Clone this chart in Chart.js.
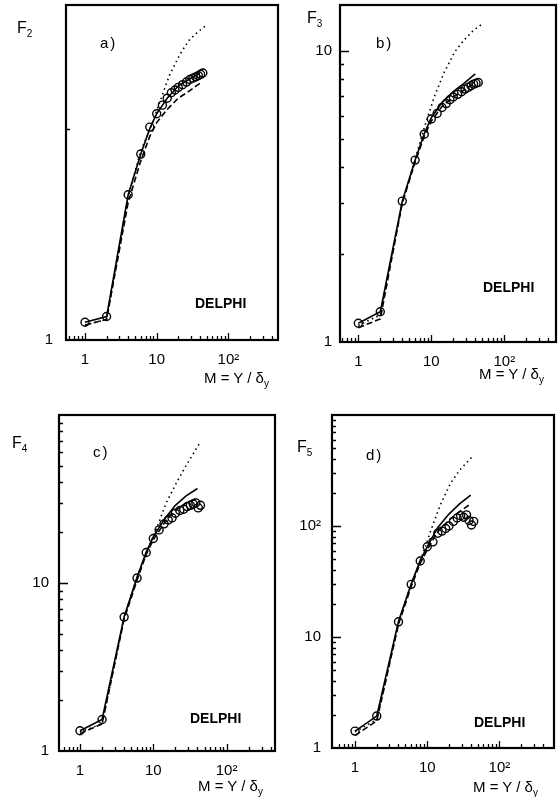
<!DOCTYPE html>
<html>
<head>
<meta charset="utf-8">
<script src="https://cdn.jsdelivr.net/npm/chart.js@4.4.1/dist/chart.umd.min.js"></script>
<style>
  body { margin: 0; background: #fff; width: 558px; height: 797px; position: relative; overflow: hidden;
         font-family: "Liberation Sans", Arial, sans-serif; color: #000; }
  canvas { position: absolute; }
  .t { position: absolute; font-size: 15px; line-height: 1; white-space: nowrap; }
  .t sub { font-size: 10px; vertical-align: -4px; line-height: 0; }
  .fq { font-size: 16px; }
  .lab { letter-spacing: 2px; font-size: 15px; }
  .dl { font-weight: bold; font-size: 14px; }
</style>
</head>
<body>
<script>
// --- DATA ---
// bin counts M = Y / delta_y
const M_DATA  = [1, 2, 4, 6, 8, 10, 12, 14, 16, 18, 20, 23, 26, 29, 32, 35, 38, 41, 44];
const M_MODEL = [1, 2, 4, 6, 8, 10, 14, 20, 28, 40];
const M_DOT_AB = [1, 2, 4, 6, 8, 11, 15, 21, 28, 38, 50];
const M_DOT_CD = [1, 2, 4, 6, 8, 11, 15, 21, 28, 42];

// a) F2
const f2Data   = [1.06, 1.08, 1.61, 1.84, 2.01, 2.10, 2.16, 2.21, 2.25, 2.27, 2.29, 2.31, 2.33, 2.35, 2.36, 2.37, 2.38, 2.39, 2.40];
const f2Solid  = [1.06, 1.08, 1.61, 1.84, 2.00, 2.10, 2.21, 2.30, 2.35, 2.40];
const f2Dashed = [1.05, 1.07, 1.57, 1.80, 1.95, 2.04, 2.13, 2.21, 2.26, 2.32];
const f2Dotted = [1.05, 1.07, 1.60, 1.86, 1.99, 2.18, 2.38, 2.55, 2.67, 2.75, 2.81];

// b) F3
const f3Data   = [1.16, 1.27, 3.05, 4.22, 5.18, 5.84, 6.10, 6.40, 6.60, 6.80, 6.95, 7.10, 7.25, 7.40, 7.50, 7.60, 7.70, 7.75, 7.80];
const f3Solid  = [1.16, 1.27, 3.05, 4.22, 5.20, 5.90, 6.65, 7.25, 7.75, 8.35];
const f3Dashed = [1.12, 1.20, 3.00, 4.15, 5.10, 5.75, 6.45, 6.95, 7.35, 7.80];
const f3Dotted = [1.14, 1.24, 3.00, 4.25, 5.45, 6.97, 8.45, 9.95, 10.9, 11.8, 12.4];

// c) F4
const f4Data   = [1.32, 1.54, 6.27, 10.7, 15.2, 18.4, 20.7, 22.5, 23.7, 24.4, 26.0, 27.0, 27.5, 28.5, 29.0, 29.5, 30.0, 28.0, 29.0];
const f4Solid  = [1.32, 1.54, 6.30, 10.8, 15.3, 18.8, 23.8, 29.0, 33.0, 36.5];
const f4Dashed = [1.27, 1.45, 6.10, 10.4, 14.8, 18.1, 22.6, 27.0, 30.0, 32.0];
const f4Dotted = [1.30, 1.45, 6.20, 10.8, 15.0, 21.0, 30.0, 40.0, 50.0, 67.0];

// d) F5
const f5Data   = [1.42, 1.94, 13.7, 29.8, 48.4, 65.0, 72.0, 86.0, 90.0, 95.0, 100, 110, 118, 124, 120, 126, 112, 102, 110];
const f5Solid  = [1.42, 1.94, 13.8, 30.0, 49.0, 65.0, 97.0, 128, 158, 190];
const f5Dashed = [1.30, 1.75, 13.0, 28.5, 46.0, 61.0, 89.0, 113, 135, 158];
const f5Dotted = [1.40, 1.80, 13.5, 30.0, 48.0, 88.0, 152, 242, 318, 421];

// tick values
const X_MINOR = [0.6, 0.7, 0.8, 0.9, 2, 3, 4, 5, 6, 7, 8, 9, 20, 30, 40, 50, 60, 70, 80, 90, 200, 300, 400];
const X_MAJOR = [1, 10, 100];
const Y_MINOR = [2, 3, 4, 5, 6, 7, 8, 9, 20, 30, 40, 50, 60, 70, 80, 90, 200, 300, 400, 500, 600, 700, 800, 900];

// --- PANELS ---
const panels = [
  { box: { l: 66, t: 5, r: 278, b: 340 }, xMin: 0.543, xMax: 492, yMax: 3, yPad: 13,
    data: f2Data, solid: f2Solid, dashed: f2Dashed, dotted: f2Dotted, mDot: M_DOT_AB,
    yLabels: [1], yMajor: [], yMinor: [2], q: 2, tag: 'a)' },
  { box: { l: 340, t: 5, r: 556, b: 342 }, xMin: 0.561, xMax: 511, yMax: 14.4, yPad: 8,
    data: f3Data, solid: f3Solid, dashed: f3Dashed, dotted: f3Dotted, mDot: M_DOT_AB,
    yLabels: [1, 10], yMajor: [10], yMinor: Y_MINOR, q: 3, tag: 'b)' },
  { box: { l: 59, t: 415, r: 275, b: 751 }, xMin: 0.517, xMax: 457, yMax: 100, yPad: 10,
    data: f4Data, solid: f4Solid, dashed: f4Dashed, dotted: f4Dotted, mDot: M_DOT_CD,
    yLabels: [1, 10], yMajor: [10], yMinor: Y_MINOR, q: 4, tag: 'c)' },
  { box: { l: 332, t: 415, r: 554, b: 748 }, xMin: 0.48, xMax: 570, yMax: 1000, yPad: 11,
    data: f5Data, solid: f5Solid, dashed: f5Dashed, dotted: f5Dotted, mDot: M_DOT_CD,
    yLabels: [1, 10, 100], yMajor: [10, 100], yMinor: Y_MINOR, q: 5, tag: 'd)' }
];

const FONT = { family: '"Liberation Sans", Arial, sans-serif', size: 15 };

// label only exact decades (null keeps the tick out of the layout)
function decLabel(v, allowed) {
  const l = Math.log10(v);
  if (Math.abs(l - Math.round(l)) > 1e-6) return null;
  const e = Math.round(l);
  if (allowed && !allowed.some(a => Math.abs(a - v) < 1e-6)) return null;
  return e === 0 ? '1' : e === 1 ? '10' : e === 2 ? '10\u00B2' : e === 3 ? '10\u00B3' : null;
}

function pts(xs, ys) { return xs.map((x, i) => ({ x: x, y: ys[i] })); }

// inward tick marks + frame
const frameTicks = {
  id: 'frameTicks',
  afterDraw(chart, args, o) {
    const { ctx, chartArea: a } = chart;
    const x = chart.scales.x, y = chart.scales.y;
    ctx.save();
    ctx.strokeStyle = '#000';
    ctx.lineWidth = 1.3;
    ctx.beginPath();
    X_MINOR.concat(X_MAJOR).forEach(v => {
      if (v <= x.min || v >= x.max) return;
      const px = Math.round(x.getPixelForValue(v)) + 0.5;
      const len = X_MAJOR.includes(v) ? 7 : 4;
      ctx.moveTo(px, a.bottom); ctx.lineTo(px, a.bottom - len);
    });
    o.yMinor.concat(o.yMajor).forEach(v => {
      if (v <= y.min || v >= y.max) return;
      const py = Math.round(y.getPixelForValue(v)) + 0.5;
      const len = o.yMajor.includes(v) ? 9 : 4;
      ctx.moveTo(a.left, py); ctx.lineTo(a.left + len, py);
    });
    ctx.stroke();
    ctx.lineWidth = 2.2;
    ctx.strokeRect(a.left, a.top, a.right - a.left, a.bottom - a.top);
    ctx.restore();
  }
};

function makePanel(p) {
  const PL = 60, PT = 10, PR = 8, PB = 30;
  const W = p.box.r - p.box.l, H = p.box.b - p.box.t;
  const cv = document.createElement('canvas');
  cv.width = W + PL + PR;
  cv.height = H + PT + PB;
  cv.style.left = (p.box.l - PL) + 'px';
  cv.style.top = (p.box.t - PT) + 'px';
  document.body.appendChild(cv);

  new Chart(cv, {
    type: 'line',
    data: {
      datasets: [
        { label: 'data', data: pts(M_DATA, p.data), showLine: false, order: 0,
          pointRadius: 4, pointBorderWidth: 1.4, pointBorderColor: '#000',
          pointBackgroundColor: 'rgba(0,0,0,0)' },
        { label: 'solid', data: pts(M_MODEL, p.solid), borderColor: '#000', borderWidth: 1.6,
          pointRadius: 0, order: 1 },
        { label: 'dashed', data: pts(M_MODEL, p.dashed), borderColor: '#000', borderWidth: 1.6,
          borderDash: [6, 3], pointRadius: 0, order: 1 },
        { label: 'dotted', data: pts(p.mDot, p.dotted), borderColor: '#000', borderWidth: 1.6,
          borderDash: [1.5, 3.5], pointRadius: 0, order: 1 }
      ]
    },
    options: {
      responsive: false,
      animation: false,
      layout: { padding: { left: 0, top: PT, right: PR, bottom: 0 } },
      plugins: { legend: { display: false }, tooltip: { enabled: false },
                 frameTicks: { yMinor: p.yMinor, yMajor: p.yMajor } },
      scales: {
        x: {
          type: 'logarithmic', min: p.xMin, max: p.xMax,
          grid: { display: false }, border: { display: false },
          ticks: { autoSkip: false, maxRotation: 0, padding: 3, color: '#000', font: FONT,
                   callback: v => decLabel(v) },
          afterFit: s => { s.height = PB; s.paddingLeft = 0; s.paddingRight = 0; }
        },
        y: {
          type: 'logarithmic', min: 1, max: p.yMax,
          grid: { display: false, drawTicks: false }, border: { display: false },
          ticks: { autoSkip: false, padding: p.yPad, color: '#000', font: FONT,
                   callback: v => decLabel(v, p.yLabels) },
          afterFit: s => { s.width = PL; s.paddingTop = 0; s.paddingBottom = 0; }
        }
      }
    },
    plugins: [frameTicks]
  });
}

panels.forEach(makePanel);

// --- TEXT ---
function addText(html, cls, left, top) {
  const d = document.createElement('div');
  d.className = 't ' + cls;
  d.innerHTML = html;
  d.style.left = left + 'px';
  d.style.top = top + 'px';
  document.body.appendChild(d);
}
const textPos = [
  { f: [17, 20], tag: [100, 35], delphi: [195, 296], m: [204, 370] },
  { f: [307, 10], tag: [376, 35], delphi: [483, 280], m: [479, 366] },
  { f: [12, 435], tag: [93, 444], delphi: [190, 711], m: [198, 778] },
  { f: [297, 439], tag: [366, 447], delphi: [474, 715], m: [473, 779] }
];
panels.forEach((p, i) => {
  const tp = textPos[i];
  addText('F<sub>' + p.q + '</sub>', 'fq', tp.f[0], tp.f[1]);
  addText(p.tag, 'lab', tp.tag[0], tp.tag[1]);
  addText('DELPHI', 'dl', tp.delphi[0], tp.delphi[1]);
  addText('M = Y / \u03B4<sub>y</sub>', '', tp.m[0], tp.m[1]);
});
</script>
</body>
</html>
